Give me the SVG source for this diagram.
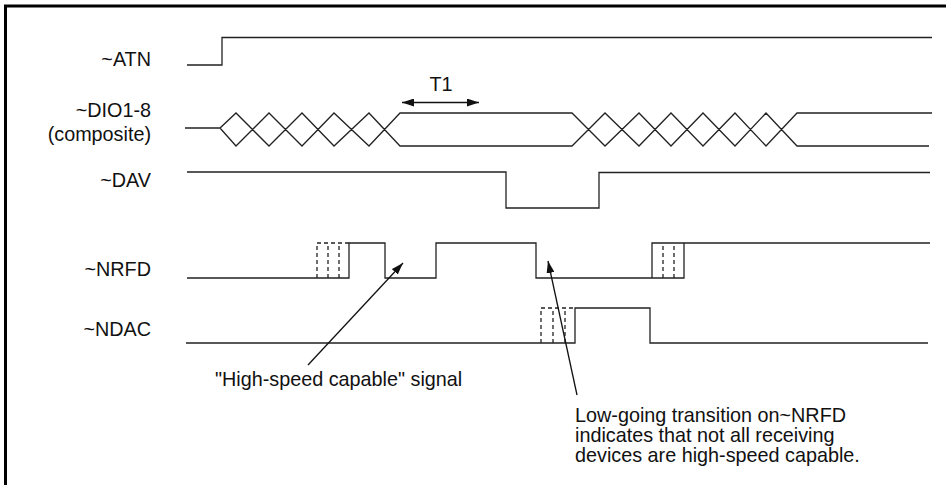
<svg xmlns="http://www.w3.org/2000/svg" width="946" height="485" viewBox="0 0 946 485">
<style>
.sig{fill:none;stroke:#222;stroke-width:1.3;stroke-linejoin:miter}
.dash{fill:none;stroke:#222;stroke-width:1.3;stroke-dasharray:4,3}
.lbl{font-family:"Liberation Sans",Arial,sans-serif;font-size:19.8px;fill:#111}
.arr{fill:none;stroke:#111;stroke-width:1.3}
</style>
<defs>
<marker id="ah" viewBox="0 0 12 8" refX="12" refY="4" markerWidth="12" markerHeight="8" markerUnits="userSpaceOnUse" orient="auto-start-reverse">
<path d="M0,0 L12,4 L0,8 z" fill="#111"/>
</marker>
</defs>
<rect width="946" height="485" fill="#fff"/>
<path d="M5.5,485 V6 H946" fill="none" stroke="#000" stroke-width="3"/>

<g id="atn">
<text class="lbl" x="151" y="66" text-anchor="end">~ATN</text>
<path class="sig" stroke="#555" d="M187,65 H222 V37.5 H932"/>
</g>

<g id="dio">
<text class="lbl" x="151" y="117" text-anchor="end">~DIO1-8</text>
<text class="lbl" x="151" y="141" text-anchor="end">(composite)</text>
<path class="sig" d="M185,128 H220 L236,113 L269,146 L302,113 L334,146 L369,113 L400,146 H508 M220,128 L236,146 L269,113 L302,146 L334,113 L369,146 L400,113 H508 M508,113 H572 L605,146 L639,113 L671,146 L703,113 L735,146 L766,113 L797,146 H929 M508,146 H572 L605,113 L639,146 L671,113 L703,146 L735,113 L766,146 L797,113 H932"/>
</g>

<g id="dav">
<text class="lbl" x="151" y="187" text-anchor="end">~DAV</text>
<path class="sig" d="M187,172 H506 V208 H599 V172.5 H930"/>
</g>

<g id="nrfd">
<text class="lbl" x="151" y="276" text-anchor="end">~NRFD</text>
<path class="sig" d="M187,278 H349 V243 H385 V278 H436 V243 H536 V278 H684 V243 M652,278 V243 H930"/>
<path class="dash" d="M317,278 V243 H349 M328,278 V243 M339,278 V243 M663,278 V243 M674,278 V243"/>
</g>

<g id="ndac">
<text class="lbl" x="151" y="336" text-anchor="end">~NDAC</text>
<path class="sig" d="M186,343 H575 V308 H650 V343 H928"/>
<path class="dash" d="M541,343 V308 H575 M553,343 V308 M565,343 V308"/>
</g>

<g id="t1">
<text class="lbl" x="441" y="91" text-anchor="middle">T1</text>
</g>

<g id="note1">
<text class="lbl" x="215" y="386">"High-speed capable" signal</text>
</g>

<g id="note2">
<text class="lbl" x="575" y="421.5">Low-going transition on~NRFD</text>
<text class="lbl" x="575" y="441.5">indicates that not all receiving</text>
<text class="lbl" x="575" y="461.5">devices are high-speed capable.</text>
</g>

<g id="connectors">
<line class="arr" x1="402" y1="102.5" x2="479" y2="102.5" marker-start="url(#ah)" marker-end="url(#ah)"/>
<line class="arr" x1="308" y1="365" x2="403" y2="263" marker-end="url(#ah)"/>
<line class="arr" x1="577" y1="395" x2="548" y2="261" marker-end="url(#ah)"/>
</g>
</svg>
